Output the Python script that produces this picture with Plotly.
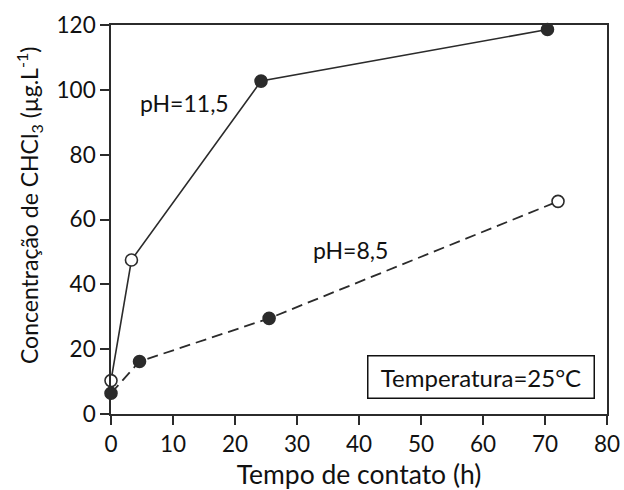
import plotly.graph_objects as go

# Contact time (h) and CHCl3 concentration (µg/L) for each pH
time_ph115 = [0, 3.3, 24.2, 70.4]
conc_ph115 = [10.3, 47.5, 102.7, 118.6]
open_ph115 = [True, True, False, False]

time_ph85 = [0, 4.6, 25.5, 72.1]
conc_ph85 = [6.4, 16.2, 29.5, 65.6]
open_ph85 = [False, False, False, True]

x_ticks = [0, 10, 20, 30, 40, 50, 60, 70, 80]
y_ticks = [0, 20, 40, 60, 80, 100, 120]

INK = "#2b2b2b"
TEXT = "#111"
FONT = "Lato"


def marker_for(flags):
    return dict(
        size=12,
        color=["white" if f else INK for f in flags],
        line=dict(color=INK, width=1.6),
    )


fig = go.Figure()
fig.add_trace(go.Scatter(
    x=time_ph115, y=conc_ph115, mode="lines+markers",
    line=dict(color=INK, width=1.6),
    marker=marker_for(open_ph115), cliponaxis=False, showlegend=False,
))
fig.add_trace(go.Scatter(
    x=time_ph85, y=conc_ph85, mode="lines+markers",
    line=dict(color=INK, width=1.8, dash="11px,6px"),
    marker=marker_for(open_ph85), cliponaxis=False, showlegend=False,
))

fig.add_annotation(x=11.9, y=95.8, text="pH=11,5", showarrow=False,
                   font=dict(family=FONT, size=23, color=TEXT))
fig.add_annotation(x=38.7, y=50.7, text="pH=8,5", showarrow=False,
                   font=dict(family=FONT, size=23, color=TEXT))
fig.add_annotation(x=59.7, y=11.3, text="Temperatura=25°C", showarrow=False,
                   font=dict(family=FONT, size=24, color=TEXT),
                   bgcolor="white", bordercolor=TEXT, borderwidth=1.5,
                   borderpad=6, width=213, height=29)

# Vertical axis title, set slightly above the plot's mid-height
fig.add_annotation(
    xref="paper", yref="paper", x=-0.165, y=0.535,
    xanchor="center", yanchor="middle", textangle=-90, showarrow=False,
    text="Concentração de CHCl<sub>3</sub> (µg.L<sup>-1</sup>)",
    font=dict(family=FONT, size=23, color=TEXT),
)

axis_common = dict(
    showline=True, linecolor=INK, linewidth=1.6, mirror=True,
    ticks="outside", ticklen=9, tickwidth=1.6, tickcolor=INK,
    showgrid=False, zeroline=False, automargin=False,
    tickfont=dict(family=FONT, size=22.5, color=TEXT),
)

fig.update_xaxes(
    range=[0, 80], tickvals=x_ticks,
    title=dict(text="Tempo de contato (h)", standoff=14,
               font=dict(family=FONT, size=26.5, color=TEXT)),
    **axis_common,
)
fig.update_yaxes(range=[0, 120], tickvals=y_ticks, **axis_common)

fig.update_layout(
    width=624, height=490,
    margin=dict(l=111, r=17, t=25, b=76),
    paper_bgcolor="white", plot_bgcolor="white",
    font=dict(family=FONT, color=TEXT),
)

fig.write_html("out.html")
